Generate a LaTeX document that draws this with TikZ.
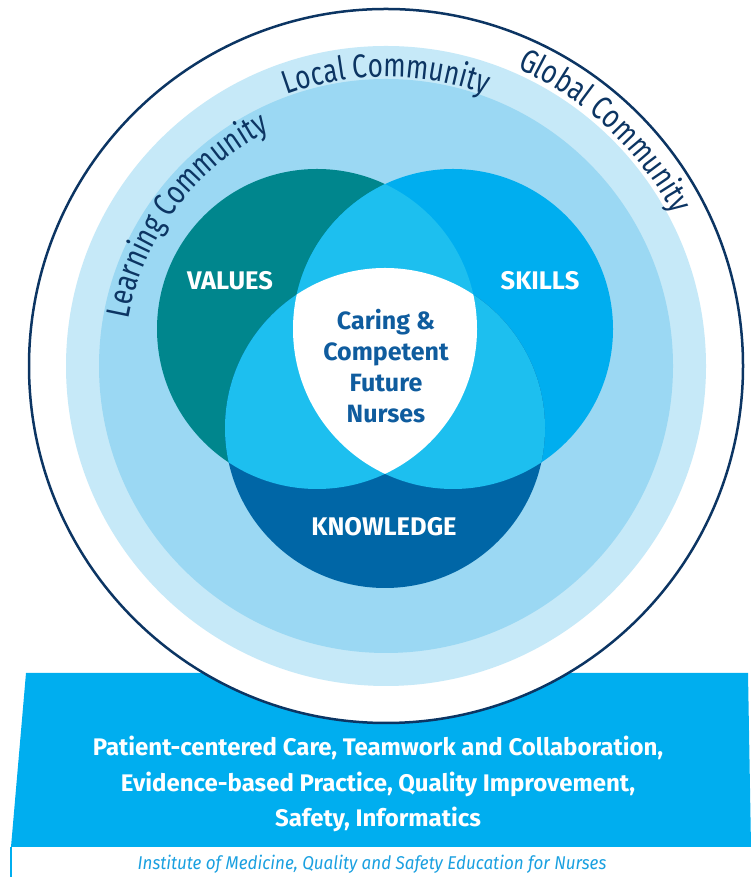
\documentclass[tikz,border=0pt]{standalone}
\usepackage{fontspec}
\setmainfont{Fira Sans}
\newfontfamily\condfont[FakeStretch=0.79]{Fira Sans}
\newfontfamily\sourcefont[FakeStretch=0.92]{Fira Sans}
\usetikzlibrary{decorations.text}

\definecolor{navy}{HTML}{0C3563}
\definecolor{ringlight}{HTML}{C6E9F8}
\definecolor{ringmid}{HTML}{9BD8F3}
\definecolor{valuescol}{HTML}{00868D}
\definecolor{skillscol}{HTML}{00AEEF}
\definecolor{knowcol}{HTML}{0066A6}
\definecolor{overlapcol}{HTML}{1DBFEF}
\definecolor{centertext}{HTML}{0F5C9E}
\definecolor{bandcol}{HTML}{00AEEF}
\definecolor{sourcecol}{HTML}{1AA0E0}

\newcommand\commfont{\condfont\fontsize{33}{33}\selectfont}

\tikzset{
  vennlabel/.style={font=\bfseries\fontsize{25.5}{31}\selectfont, text=white, anchor=base},
  community/.style={decorate, decoration={text along path, text align=center, text color=navy, text={|\commfont|#1}}}
}

\begin{document}
\begin{tikzpicture}[x=1pt, y=1pt]
  \useasboundingbox (0,0) rectangle (751,877);

  % band with the competencies
  \fill[bandcol] (26,204) -- (748,204) -- (751,30) -- (11,30) -- cycle;
  \draw[bandcol, line width=1.5pt] (11,30) -- (11,0);

  % community rings
  \coordinate (c) at (386,511);
  \filldraw[fill=white, draw=navy, line width=2.5pt] (c) circle (357);
  \fill[ringlight] (c) circle (320);
  \fill[ringmid] (c) circle (287);

  \path[community={Learning Community}] (c) ++(190:262) arc[start angle=190, end angle=96, radius=262];
  \path[community={Local Community}] (c) ++(150:289) arc[start angle=150, end angle=30, radius=289];
  \path[community={Global Community}] (c) ++(88:325) arc[start angle=88, end angle=6, radius=325];

  % venn
  \coordinate (v) at (317,548);
  \coordinate (s) at (453,548);
  \coordinate (k) at (385,449);
  \fill[valuescol] (v) circle (160);
  \fill[skillscol] (s) circle (160);
  \fill[knowcol] (k) circle (160);
  \begin{scope}
    \clip (v) circle (160);
    \fill[overlapcol] (s) circle (160);
    \fill[overlapcol] (k) circle (160);
  \end{scope}
  \begin{scope}
    \clip (s) circle (160);
    \fill[overlapcol] (k) circle (160);
  \end{scope}
  \begin{scope}
    \clip (v) circle (160);
    \clip (s) circle (160);
    \fill[white] (k) circle (160);
  \end{scope}

  \node[vennlabel] (values) at (230,587) {VALUES};
  \node[vennlabel] (skills) at (540,587) {SKILLS};
  \node[vennlabel] (knowledge) at (384,341) {KNOWLEDGE};
  \node[font=\bfseries\fontsize{25}{31}\selectfont, text=centertext, align=center] (nurses) at (386,511)
    {Caring \&\\Competent\\Future\\Nurses};

  % competencies and source
  \node[font=\bfseries\fontsize{24}{35.5}\selectfont, text=white, align=center] (qsen) at (378,93)
    {Patient-centered Care, Teamwork and Collaboration,\\Evidence-based Practice, Quality Improvement,\\Safety, Informatics};
  \node[font=\sourcefont\itshape\fontsize{18.5}{20}\selectfont, text=sourcecol, anchor=base] (source) at (372,7)
    {Institute of Medicine, Quality and Safety Education for Nurses};
\end{tikzpicture}
\end{document}
